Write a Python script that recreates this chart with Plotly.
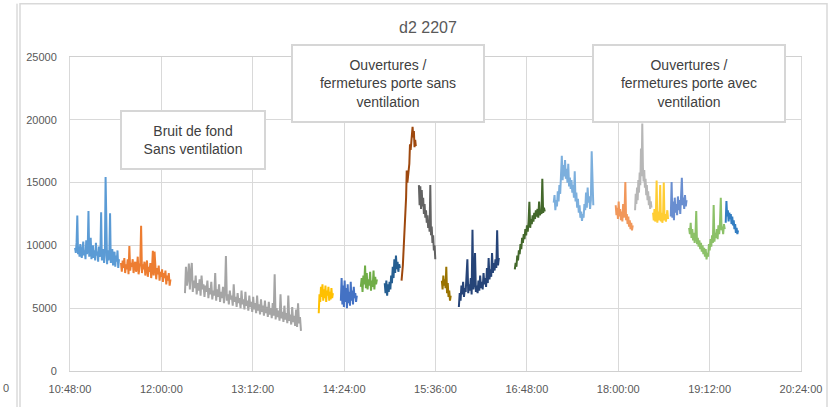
import pandas as pd
import plotly.graph_objects as go

DAY = "2022-07-22 "

# Readings per recording segment (one trace each)
s01 = [9800, 9400, 10200, 12380, 9300, 9900, 9100, 10100, 9500, 9000, 9700, 10300, 9200, 9600, 8900,
       10400, 9300, 9800, 12740, 9100, 9500, 10600, 8900, 9400, 10000, 9000, 9600, 8800, 10200, 9200,
       9500, 8700, 9900, 9100, 9400, 12640, 8800, 9300, 9700, 8600, 9200, 15440, 9000, 8500, 9600,
       8800, 9300, 12560, 8600, 9100, 9700, 8400, 9000, 9500, 8300, 9200, 8700, 9600, 8200, 8900]
s02 = [8600, 7900, 8800, 8200, 9000, 7800, 8500, 8100, 8900, 7700, 9940, 8000, 8600, 8300, 8900,
       7800, 8400, 8700, 7900, 8300, 9100, 7700, 8200, 8600, 11560, 7800, 8500, 8100, 8700, 7600,
       8200, 8800, 7500, 8300, 7900, 8600, 7400, 8100, 9570, 7600, 9500, 7800, 7300, 8200, 7700,
       8400, 7200, 7900, 7500, 8100, 7100, 7800, 7400, 8000, 6900, 7600, 7200, 7800, 6800, 7300]
s03 = [6200, 8300, 6800, 7400, 8550, 6500, 7900, 8600, 6300, 7200,
       6600, 7600, 6100, 7000, 6400, 7300, 6000, 7600, 6500, 6900,
       5900, 6800, 6300, 7200, 5800, 6600, 6100, 7100, 5700, 6400,
       6000, 7800, 5600, 6500, 5900, 6900, 5500, 6300, 5800, 6700,
       5400, 6200, 9150, 5600, 6100, 5300, 6400, 5700, 6000, 5200,
       6900, 5500, 5900, 5100, 6200, 5400, 5800, 5000, 6400, 5300,
       5700, 4900, 6300, 5200, 5600, 4800, 6000, 5100, 5500, 4700,
       5900, 4900, 5400, 4600, 6000, 4800, 5300, 4500, 5700, 4700,
       5200, 4400, 5600, 4600, 5100, 4300, 5500, 4500, 5000, 4200,
       5400, 4400, 7700, 4100, 5000, 4300, 4800, 4000, 6100, 4200,
       4700, 3900, 5200, 4100, 4600, 3800, 6000, 4000, 4500, 3700,
       5100, 3900, 4400, 3600, 4900, 3500, 5400, 3800, 4300, 3200]
s04 = [4600, 6100, 5500, 6700, 5900, 6900, 5600, 6500, 5800, 6800, 5500, 6400, 6000, 6700, 5600,
       6300, 5700, 6600, 5800, 6200]
s05 = [5600, 7400, 5300, 6800, 5100, 7200, 5500, 6600, 5000, 6900, 5400, 6300, 5200, 7100, 5600,
       6400, 5300, 6700, 5800, 6200, 5500, 6000]
s06 = [6700, 7400, 6300, 7600, 6900, 8400, 6600, 7800, 6500, 7300, 6800, 7900, 6400, 7200, 6700,
       8000, 6500, 7500, 6900, 7300]
s07 = [7000, 6200, 7200, 6000, 6900, 6300, 7100, 6500, 7600, 7000, 8300, 7400, 8900, 7800, 9200,
       8100, 8700, 7900, 8500, 8200]
s08 = [7200, 7600, 8400, 9500, 10600, 11140, 12000, 13800, 15960, 15000, 15500, 15860, 16500, 18050,
       17600, 18200, 18700, 19440, 18600, 19100, 17820, 18400, 17900]
s09 = [14800, 13200, 14700, 12900, 14400, 13100, 13800, 12500, 13300, 12200, 12800, 11800, 12400,
       11400, 12000, 11100, 14800, 10800, 11500, 10200, 10800, 9600, 10000, 8900]
s10 = [7200, 6500, 7600, 6800, 7300, 6600, 8300, 6200, 7000, 5900, 6400, 5600, 6000]
s11 = [5100, 6200, 5600, 6800, 6100, 7100, 5900, 6600, 6300, 7300, 8900, 6200, 6900, 6400, 7400,
       6100, 11250, 6500, 7000, 9400, 6300, 6800, 6200, 7200, 6400, 7600, 6600, 7100, 6500, 7800,
       6900, 7400, 6700, 8200, 7000, 9000, 7300, 8100, 7500, 9400, 7800, 8600, 8000, 8900, 8200,
       11200, 8400, 9000]
s12 = [8100, 8600, 8300, 9200, 8800, 9600, 9300, 10100, 9700, 10600, 10200, 10900, 10500, 11300,
       10800, 11600, 11100, 11900, 13470, 11400, 12100, 11700, 12400, 11900, 12600, 12100, 12800,
       12300, 12900, 12200, 13500, 12400, 12800, 12500, 15300, 12600, 13000, 12700]
s13 = [13400, 14000, 12800, 13600, 13100, 14300, 13500, 14800, 14100, 15600, 17130, 15200, 16400,
       15500, 16800, 15300, 16100, 15000, 16500, 14700, 15400, 14500, 15200, 14200, 14800, 13800,
       15900, 13500, 14200, 13000, 13700, 12600, 13200, 12200, 12700, 11950, 12500, 12200, 13300,
       12800, 14200, 13000, 14600, 13400, 13900, 12900, 13600, 17500, 13500, 13200]
s14 = [13200, 12400, 13000, 12100, 13500, 12300, 12900, 12000, 12700, 11900, 13300, 12200, 12800,
       15050, 12000, 12500, 11700, 12300, 11500, 12000, 11300, 11800, 11200, 11600]
s15 = [12800, 14100, 13300, 14600, 13600, 15200, 14200, 15800, 14800, 17720, 15500, 19700, 16200,
       15100, 16000, 14600, 15300, 14000, 14800, 13600, 14300, 13200, 13900, 12900, 13500, 13000]
s16 = [12600, 12000, 12900, 11900, 12500, 15170, 11800, 12700, 12000, 12400, 14800, 11900, 12600,
       11800, 12300, 15000, 12000, 12500, 11900, 12200, 12800, 12100]
s17 = [12300, 15050, 12200, 13500, 12000, 13800, 12600, 13300, 12400, 13900, 12800, 13600, 12500,
       14100, 15380, 13200, 13800, 12900, 14000, 13100, 13600]
s18 = [11400, 10900, 11800, 10600, 11300, 10400, 11000, 10200, 10800, 12740, 10100, 10600, 9900,
       10400, 9700, 10200, 9500, 10000, 9300, 9800, 9100, 9700, 8890, 9400, 9100, 10100, 9600, 10500,
       9900, 10800, 10200, 13210, 10300, 11000, 10600, 11300, 10500, 11600, 10900, 11800, 13790,
       11200, 11500, 10900, 11700, 11300]
s19 = [11800, 13530, 12300, 12800, 11900, 12600, 12100, 12500, 11700, 12300, 11600, 12000, 11300,
       11700, 11000, 11400, 10900, 11200]

seg_values = [s01, s02, s03, s04, s05, s06, s07, s08, s09, s10,
              s11, s12, s13, s14, s15, s16, s17, s18, s19]
seg_start = ["10:52:00", "11:28:10", "12:18:36", "14:04:00", "14:21:25", "14:37:10", "14:56:00",
             "15:09:15", "15:22:55", "15:41:00", "15:54:25", "16:38:30", "17:09:10", "17:58:00",
             "18:13:15", "18:27:25", "18:41:25", "18:55:50", "19:24:40"]
seg_end = ["11:26:36", "12:07:10", "13:50:00", "14:15:10", "14:34:00", "14:49:50", "15:08:00",
           "15:20:30", "15:35:50", "15:48:00", "16:25:55", "17:02:05", "17:40:20", "18:11:25",
           "18:26:10", "18:39:15", "18:53:50", "19:23:55", "19:34:25"]
seg_colors = ["#5B9BD5", "#ED7D31", "#A5A5A5", "#FFC000", "#4472C4", "#70AD47", "#255E91",
              "#9E480E", "#636363", "#997300", "#264478", "#43682B", "#7CAFDD", "#F1975A",
              "#B7B7B7", "#FFCD33", "#698ED0", "#8CC168", "#327DC2"]

title_text = "d2 2207"
notes = [
    "Bruit de fond<br>Sans ventilation",
    "Ouvertures /<br>fermetures porte sans<br>ventilation",
    "Ouvertures /<br>fermetures porte avec<br>ventilation",
]

fig = go.Figure()
for vals, t0, t1, col in zip(seg_values, seg_start, seg_end, seg_colors):
    times = pd.date_range(DAY + t0, DAY + t1, periods=len(vals))
    fig.add_trace(go.Scatter(x=times, y=vals, mode="lines",
                             line=dict(color=col, width=2), showlegend=False))

# plot area geometry (pixels) used to place the boxes
L, R, T, B = 70, 35, 57, 32
W, H = 836 - L - R, 407 - T - B


def px(x):
    return (x - L) / W


def py(y):
    return (407 - B - y) / H


boxes = [(193, 141, 142, 56), (388, 83.5, 190, 75), (689, 83.5, 190, 75)]
annotations = []
for txt, (cx, cy, bw, bh) in zip(notes, boxes):
    annotations.append(dict(
        text=txt, x=px(cx), y=py(cy), xref="paper", yref="paper",
        xanchor="center", yanchor="middle", showarrow=False,
        width=bw, height=bh, align="center", valign="middle",
        bgcolor="white", bordercolor="#d6d6d6", borderwidth=2, borderpad=0,
        font=dict(family="Liberation Sans, Arial, sans-serif", size=14, color="#404040"),
    ))
annotations.append(dict(text="0", x=px(1), y=py(392), xref="paper", yref="paper",
                        xanchor="left", yanchor="middle", showarrow=False,
                        font=dict(family="Liberation Sans, Arial", size=11, color="#595959")))

shapes = [
    dict(type="rect", xref="paper", yref="paper", x0=px(20), x1=px(827), y0=py(420), y1=py(3),
         line=dict(color="#d9d9d9", width=1.5), fillcolor="rgba(0,0,0,0)", layer="below"),
    dict(type="line", xref="paper", yref="paper", x0=px(17), x1=px(17), y0=py(420), y1=py(3),
         line=dict(color="#c8c8c8", width=1)),
]

fig.update_layout(
    width=836, height=407,
    margin=dict(l=L, r=R, t=T, b=B),
    paper_bgcolor="white", plot_bgcolor="white",
    title=dict(text=title_text, x=428 / 836, xref="container", xanchor="center",
               y=1 - 27 / 407, yref="container", yanchor="middle",
               font=dict(family="Liberation Sans, Arial", size=16, color="#595959")),
    annotations=annotations, shapes=shapes,
    font=dict(family="Liberation Sans, Arial, sans-serif", size=11, color="#595959"),
)
fig.update_xaxes(
    type="date", range=[DAY + "10:48:00", DAY + "20:24:00"],
    tickmode="linear", tick0=DAY + "10:48:00", dtick=72 * 60 * 1000,
    tickformat="%H:%M:%S", showgrid=True, gridcolor="#d9d9d9", gridwidth=1,
    showline=True, linecolor="#d0d0d0", mirror=True, zeroline=False,
    ticks="", ticklabelstandoff=8, tickfont=dict(size=11, color="#595959"),
)
fig.update_yaxes(
    range=[0, 25000], tickmode="linear", tick0=0, dtick=5000, tickformat="d",
    showgrid=True, gridcolor="#d9d9d9", gridwidth=1,
    showline=True, linecolor="#d9d9d9", mirror=True, zeroline=False,
    ticks="", ticklabelstandoff=10, tickfont=dict(size=11, color="#595959"),
)

fig.write_html("out.html")
